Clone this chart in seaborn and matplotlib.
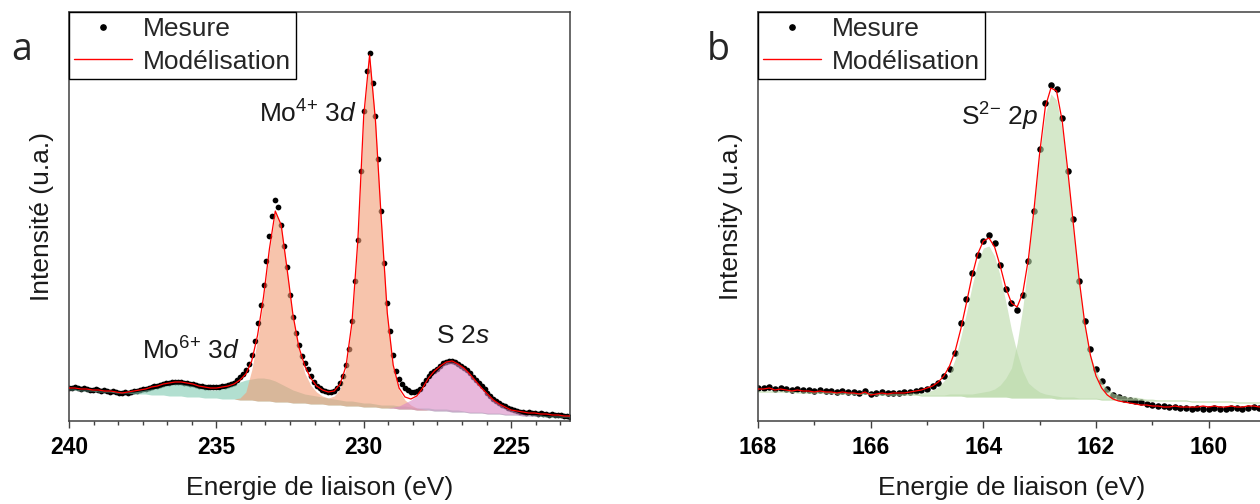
import numpy as np
import matplotlib
matplotlib.use("Agg")
import matplotlib.pyplot as plt
from matplotlib.lines import Line2D
from matplotlib.ticker import MultipleLocator, AutoMinorLocator
import seaborn as sns

sns.set_theme(style="white")
plt.rcParams['font.family'] = ['Liberation Sans', 'DejaVu Sans']
plt.rcParams['mathtext.fontset'] = 'custom'
plt.rcParams['mathtext.rm'] = 'Liberation Sans'
plt.rcParams['mathtext.it'] = 'Liberation Sans:italic'
plt.rcParams['mathtext.bf'] = 'Liberation Sans:bold'

# Colors
TEAL = "#80cab1"
SALMON = "#f39d76"
PINK = "#d989c5"
GREEN = "#b9d9a8"
SPINE = "#404040"
RED = "#ff0000"

# ---------------------------------------------------------------- panel a
# Mo 3d / S 2s region, binding energy (eV)
E_a_mesure = np.round(np.arange(240.0, 222.95, -0.1), 1)
mesure_a = [33, 33, 34, 33, 32, 33, 32, 31, 31, 32,
            31, 30, 31, 30, 29, 30, 29, 28, 28, 29,
            28, 29, 30, 30, 31, 32, 32, 33, 34, 35,
            35, 36, 37, 38, 38, 39, 39, 39, 39, 38,
            38, 37, 37, 36, 35, 35, 34, 34, 34, 34,
            34, 34, 35, 35, 36, 37, 38, 41, 44, 47,
            51, 57, 66, 80, 98, 116, 136, 160, 185, 205,
            221, 214, 196, 175, 154, 126, 104, 88, 76, 65,
            58, 52, 45, 39, 35, 33, 31, 30, 29, 29,
            30, 33, 38, 45, 56, 72, 100, 140, 181, 250,
            310, 350, 368, 338, 305, 262, 210, 158, 118, 90,
            66, 50, 42, 37, 33, 31, 29, 29, 30, 32,
            37, 41, 45, 48, 50, 52, 55, 58, 59, 60,
            60, 59, 57, 55, 53, 51, 48, 44, 41, 38,
            35, 32, 28, 25, 22, 20, 18, 16, 15, 13,
            12, 11, 10, 9, 9, 8, 9, 8, 8, 7,
            8, 7, 7, 6, 7, 6, 6, 6, 5, 5,
            4]

E_a_fit = np.round(np.arange(240.0, 222.95, -0.2), 1)
modele_a = [33, 33, 32, 32, 31, 31, 30, 30, 29, 28,
            29, 30, 31, 32, 34, 35, 37, 38, 39, 39,
            38, 37, 35, 34, 33, 33, 34, 35, 37, 41,
            47, 60, 86, 124, 172, 210, 196, 152, 106, 74,
            55, 43, 35, 31, 29, 30, 37, 55, 98, 180,
            305, 366, 300, 200, 108, 56, 33, 24, 22, 25,
            33, 43, 50, 55, 59, 60, 57, 53, 47, 40,
            33, 27, 21, 17, 14, 11, 10, 9, 8, 8,
            7, 7, 6, 6, 5, 5]
fond_a = [31, 31, 30, 30, 30, 29, 29, 29, 28, 28,
          28, 27, 27, 27, 26, 26, 26, 25, 25, 25,
          24, 24, 24, 23, 23, 23, 22, 22, 22, 21,
          21, 21, 20, 20, 20, 19, 19, 19, 18, 18,
          18, 17, 17, 17, 16, 16, 16, 15, 15, 15,
          14, 14, 14, 13, 13, 13, 12, 12, 12, 11,
          11, 11, 10, 10, 10, 9, 9, 9, 8, 8,
          8, 7, 7, 7, 6, 6, 6, 5, 5, 5,
          5, 4, 4, 4, 4, 4]
mo6_a = [1, 1, 1, 1, 1, 1, 1, 1, 1, 1,
         1, 2, 3, 4, 6, 7, 9, 11, 12, 12,
         12, 11, 9, 9, 8, 8, 10, 12, 14, 18,
         20, 21, 23, 23, 22, 21, 18, 15, 13, 11,
         9, 9, 8, 7, 7, 6, 5, 5, 5, 4,
         4, 4, 3, 3, 3, 3, 3, 3, 2, 2,
         2, 2, 2, 2, 2, 2, 2, 1, 1, 1,
         1, 1, 1, 1, 1, 1, 1, 1, 1, 1,
         1, 1, 1, 1, 1, 1]
mo4_a = [0, 0, 0, 0, 0, 0, 0, 0, 0, 0,
         0, 0, 0, 0, 0, 0, 0, 0, 0, 0,
         0, 0, 0, 0, 0, 0, 0, 0, 0, 2,
         8, 30, 62, 102, 150, 190, 176, 132, 86, 54,
         30, 19, 12, 8, 7, 9, 16, 38, 82, 164,
         290, 352, 286, 186, 94, 42, 19, 9, 4, 2,
         1, 0, 0, 0, 0, 0, 0, 0, 0, 0,
         0, 0, 0, 0, 0, 0, 0, 0, 0, 0,
         0, 0, 0, 0, 0, 0]
s2s_a = [0, 0, 0, 0, 0, 0, 0, 0, 0, 0,
         0, 0, 0, 0, 0, 0, 0, 0, 0, 0,
         0, 0, 0, 0, 0, 0, 0, 0, 0, 0,
         0, 0, 0, 0, 0, 0, 0, 0, 0, 0,
         0, 0, 0, 0, 0, 0, 0, 0, 0, 0,
         0, 0, 0, 0, 0, 1, 3, 6, 9, 14,
         21, 30, 38, 44, 49, 50, 48, 44, 39, 32,
         25, 19, 14, 10, 7, 5, 3, 2, 1, 1,
         0, 0, 0, 0, 0, 0]

# ---------------------------------------------------------------- panel b
# S 2p region
E_b = np.round(np.arange(168.0, 158.95, -0.1), 1)
mesure_b = [33, 33, 34, 32, 33, 32, 31, 32, 31, 31,
            30, 31, 30, 30, 29, 30, 29, 29, 28, 30,
            27, 28, 29, 28, 28, 28, 29, 29, 30, 31,
            32, 35, 38, 45, 52, 68, 98, 122, 148, 166,
            180, 186, 178, 156, 132, 118, 111, 126, 160, 210,
            272, 318, 336, 332, 303, 250, 202, 140, 100, 72,
            52, 40, 32, 26, 24, 22, 21, 20, 19, 17,
            16, 15, 15, 14, 14, 13, 13, 12, 13, 12,
            12, 13, 12, 12, 13, 13, 12, 13, 14, 13,
            14]
modele_b = [32, 32, 33, 31, 32, 31, 30, 31, 30, 30,
            29, 30, 29, 29, 28, 29, 28, 28, 27, 29,
            26, 27, 28, 27, 28, 28, 28, 29, 30, 31,
            33, 35, 39, 45, 55, 70, 92, 118, 145, 167,
            180, 183, 174, 155, 133, 118, 114, 128, 162, 212,
            268, 314, 333, 330, 300, 250, 196, 142, 98, 66,
            45, 33, 26, 22, 20, 19, 18, 17, 16, 16,
            15, 15, 14, 14, 15, 14, 14, 14, 14, 15,
            14, 15, 14, 14, 15, 14, 14, 15, 15, 14,
            15]
fond_b = [29, 29, 29, 29, 29, 29, 29, 28, 28, 28,
          28, 28, 28, 28, 27, 27, 27, 27, 27, 27,
          27, 26, 26, 26, 26, 26, 26, 26, 26, 25,
          25, 25, 25, 25, 25, 25, 25, 24, 24, 24,
          24, 24, 24, 24, 24, 23, 23, 23, 23, 23,
          23, 23, 23, 22, 22, 22, 22, 22, 22, 22,
          22, 21, 21, 21, 21, 21, 21, 21, 21, 20,
          20, 20, 20, 20, 20, 20, 20, 19, 19, 19,
          19, 19, 19, 19, 19, 18, 18, 18, 18, 18,
          18]
s2p12_b = [1, 1, 1, 1, 1, 1, 1, 1, 1, 1,
           1, 1, 1, 1, 1, 1, 1, 1, 1, 1,
           1, 1, 1, 1, 1, 1, 1, 2, 2, 3,
           4, 6, 9, 15, 22, 37, 59, 84, 111, 134,
           149, 151, 141, 121, 95, 68, 45, 27, 15, 10,
           6, 4, 3, 3, 2, 2, 2, 1, 1, 1,
           1, 1, 1, 1, 1, 1, 1, 1, 1, 1,
           1, 1, 1, 1, 1, 1, 1, 1, 1, 1,
           1, 1, 1, 1, 1, 1, 1, 1, 1, 1,
           1]
s2p32_b = [1, 1, 1, 1, 1, 1, 1, 1, 1, 1,
           1, 1, 1, 1, 1, 1, 1, 1, 1, 1,
           1, 1, 1, 1, 1, 1, 1, 1, 1, 1,
           1, 1, 1, 1, 2, 2, 2, 3, 3, 4,
           5, 6, 8, 12, 19, 30, 55, 90, 137, 190,
           243, 284, 304, 299, 269, 222, 169, 117, 75, 44,
           28, 18, 11, 7, 5, 4, 3, 3, 2, 2,
           2, 1, 1, 1, 1, 1, 1, 1, 1, 1,
           1, 1, 1, 1, 1, 1, 1, 1, 1, 1,
           1]

FIG_W, FIG_H = 1260, 504


def style_axis(ax, xlims, major, nminor, ylabel):
    ax.set_xlim(xlims)
    ax.set_ylim(0, 409)
    ax.xaxis.set_major_locator(MultipleLocator(major))
    ax.xaxis.set_minor_locator(AutoMinorLocator(nminor))
    ax.set_yticks([])
    ax.tick_params(axis='x', which='major', direction='out', length=5,
                   width=1, color=SPINE, pad=6, labelsize=16.5,
                   bottom=True, top=False)
    ax.tick_params(axis='x', which='minor', direction='out', length=3,
                   width=1, color=SPINE, bottom=True, top=False)
    for lab in ax.get_xticklabels():
        lab.set_fontweight('bold')
        lab.set_color('black')
    for sp in ax.spines.values():
        sp.set_color(SPINE)
        sp.set_linewidth(1.1)
        sp.set_visible(True)
    ax.set_xlabel("Energie de liaison (eV)", fontsize=19, color='#1a1a1a',
                  labelpad=12)
    ax.set_ylabel(ylabel, fontsize=19, color='#1a1a1a', labelpad=11)
    handles = [Line2D([], [], ls='none', marker='o', color='black', ms=3.8),
               Line2D([], [], color=RED, lw=1.0)]
    leg = ax.legend(handles, ["Mesure", "Modélisation"], loc='upper left',
                    bbox_to_anchor=(0, 1), borderaxespad=0, frameon=True,
                    fancybox=False, edgecolor='black', framealpha=1,
                    fontsize=19, handlelength=2.2, handletextpad=0.4,
                    borderpad=0.2, labelspacing=0.32)
    leg.get_frame().set_linewidth(1.0)


def fill_component(ax, x, base, comp, color):
    base = np.asarray(base, dtype=float)
    top = base + np.asarray(comp, dtype=float)
    ax.fill_between(x, base, top, color=color, alpha=0.6, lw=0, zorder=2)


def main():
    fig = plt.figure(figsize=(FIG_W / 100, FIG_H / 100), dpi=100)
    fig.patch.set_facecolor('white')

    # panel a
    ax = fig.add_axes([69 / FIG_W, 83 / FIG_H, 501 / FIG_W, 409 / FIG_H])
    sns.scatterplot(x=E_a_mesure, y=mesure_a, ax=ax, color='black', s=17,
                    linewidth=0, zorder=1, legend=False)
    fill_component(ax, E_a_fit, fond_a, mo6_a, TEAL)
    fill_component(ax, E_a_fit, fond_a, mo4_a, SALMON)
    fill_component(ax, E_a_fit, fond_a, s2s_a, PINK)
    sns.lineplot(x=E_a_fit, y=modele_a, ax=ax, color=RED, lw=0.9,
                 zorder=4, legend=False)
    ax.text(231.89, 298, r"$\mathrm{Mo}^{4{+}}$ 3$\mathit{d}$", fontsize=19,
            ha='center', va='baseline', color='#1a1a1a')
    ax.text(235.86, 61, r"$\mathrm{Mo}^{6{+}}$ 3$\mathit{d}$", fontsize=19,
            ha='center', va='baseline', color='#1a1a1a')
    ax.text(226.63, 78, r"S 2$\mathit{s}$", fontsize=19,
            ha='center', va='baseline', color='#1a1a1a')
    style_axis(ax, (240, 223), 5, 6, "Intensité (u.a.)")

    # panel b
    ax = fig.add_axes([758 / FIG_W, 83 / FIG_H, 507 / FIG_W, 409 / FIG_H])
    sns.scatterplot(x=E_b, y=mesure_b, ax=ax, color='black', s=22,
                    linewidth=0, zorder=1, legend=False)
    fill_component(ax, E_b, fond_b, s2p12_b, GREEN)
    fill_component(ax, E_b, fond_b, s2p32_b, GREEN)
    sns.lineplot(x=E_b, y=modele_b, ax=ax, color=RED, lw=0.9,
                 zorder=4, legend=False)
    ax.text(163.71, 295, r"$\mathrm{S}^{2{-}}$ 2$\mathit{p}$", fontsize=19,
            ha='center', va='baseline', color='#1a1a1a')
    style_axis(ax, (168, 159), 2, 2, "Intensity (u.a.)")

    fig.text(11 / FIG_W, 1 - 60 / FIG_H, "a", fontsize=27,
             family=['Open Sans', 'DejaVu Sans'], va='baseline')
    fig.text(707 / FIG_W, 1 - 60 / FIG_H, "b", fontsize=27,
             family=['Open Sans', 'DejaVu Sans'], va='baseline')

    fig.savefig("out.png", dpi=100, facecolor='white')


if __name__ == '__main__':
    main()
